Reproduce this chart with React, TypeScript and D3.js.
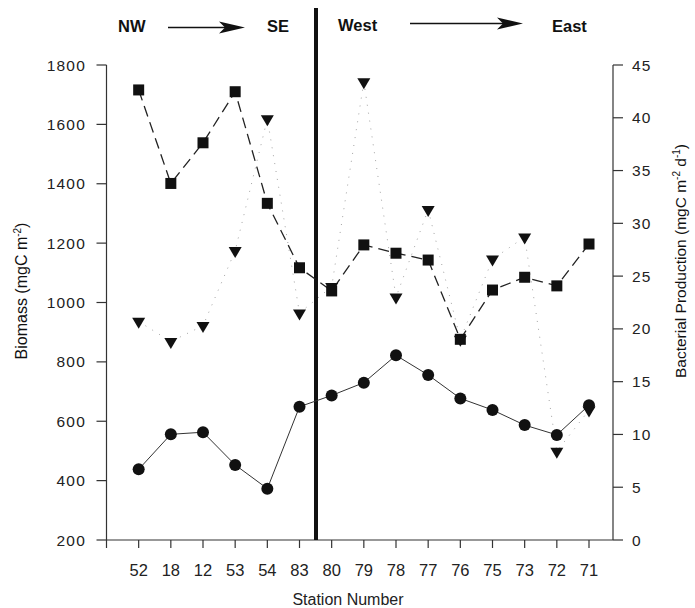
import React from "react";
import * as d3 from "d3";

const stations = ["52", "18", "12", "53", "54", "83", "80", "79", "78", "77", "76", "75", "73", "72", "71"];
const biomassCircles = [438, 556, 563, 453, 373, 649, 687, 730, 822, 756, 677, 638, 587, 554, 654];
const biomassSquares = [1716, 1401, 1538, 1710, 1334, 1117, 1039, 1194, 1166, 1143, 876, 1042, 1085, 1056, 1197];
const production = [20.7, 18.8, 20.3, 27.4, 39.9, 21.5, 24.0, 43.4, 23.0, 31.3, 19.0, 26.6, 28.7, 8.4, 12.3];
const leftTicks = [200, 400, 600, 800, 1000, 1200, 1400, 1600, 1800];
const rightTicks = [0, 5, 10, 15, 20, 25, 30, 35, 40, 45];

const FONT = "'Liberation Sans', Arial, Helvetica, sans-serif";

export default function App() {
  const x = d3.scaleLinear().domain([-1, 14]).range([106.5, 589]);
  const yL = d3.scaleLinear().domain([200, 1800]).range([540, 65]);
  const yR = d3.scaleLinear().domain([0, 45]).range([540, 65]);
  const axisLeftX = 106.5;
  const axisRightX = 613;
  const axisY = 540;

  const lineL = d3.line<number>().x((_, i) => x(i)).y((d) => yL(d));
  const lineR = d3.line<number>().x((_, i) => x(i)).y((d) => yR(d));

  const tri = (cx: number, cy: number) => {
    const w = 6.5, h = 11;
    return `M${cx - w},${cy - h / 3}L${cx + w},${cy - h / 3}L${cx},${cy + (2 * h) / 3}Z`;
  };

  const arrow = (x1: number, x2: number, y: number) => (
    <g>
      <line x1={x1} x2={x2 - 18} y1={y} y2={y} stroke="#111" strokeWidth={1.6} />
      <path d={`M${x2},${y}L${x2 - 26},${y - 6}L${x2 - 20},${y}L${x2 - 26},${y + 6}Z`} fill="#111" />
    </g>
  );

  return (
    <svg width={695} height={608} style={{ position: "absolute", left: 0, top: 0, background: "#fff" }} fontFamily={FONT}>
      {/* header */}
      <g fontWeight="bold" fontSize={16.5} fill="#111">
        <text x={118} y={32}>NW</text>
        <text x={267} y={32}>SE</text>
        <text x={338} y={31}>West</text>
        <text x={552} y={32}>East</text>
      </g>
      {arrow(168, 245, 27.5)}
      {arrow(410, 523, 23.5)}

      {/* axes */}
      <line x1={axisLeftX} x2={axisLeftX} y1={65} y2={axisY} stroke="#333" strokeWidth={1.2} />
      <line x1={axisRightX} x2={axisRightX} y1={65} y2={axisY} stroke="#333" strokeWidth={1.2} />
      <line x1={axisLeftX} x2={axisRightX} y1={axisY} y2={axisY} stroke="#333" strokeWidth={1.2} />
      {leftTicks.map((t) => (
        <g key={"l" + t}>
          <line x1={axisLeftX - 10} x2={axisLeftX} y1={yL(t)} y2={yL(t)} stroke="#333" strokeWidth={1.2} />
          <text x={86} y={yL(t)} dy="0.36em" textAnchor="end" fontSize={15.5} letterSpacing={1.2} fill="#222">{t}</text>
        </g>
      ))}
      {rightTicks.map((t) => (
        <g key={"r" + t}>
          <line x1={axisRightX} x2={axisRightX + 10} y1={yR(t)} y2={yR(t)} stroke="#333" strokeWidth={1.2} />
          <text x={632} y={yR(t)} dy="0.36em" textAnchor="start" fontSize={15.5} letterSpacing={1.2} fill="#222">{t}</text>
        </g>
      ))}
      {d3.range(-1, 15).map((i) => (
        <line key={"xt" + i} x1={x(i)} x2={x(i)} y1={axisY} y2={axisY + 8} stroke="#333" strokeWidth={1.2} />
      ))}
      {stations.map((s, i) => (
        <text key={"xl" + s} x={x(i)} y={570} dy="0.36em" textAnchor="middle" fontSize={16.5} fill="#222">{s}</text>
      ))}
      <text x={348} y={605} textAnchor="middle" fontSize={16} fill="#222">Station Number</text>
      <text transform="translate(27,291) rotate(-90)" textAnchor="middle" fontSize={16} fill="#111">
        Biomass (mgC m<tspan dy={-6} fontSize={10}>-2</tspan><tspan dy={6}>)</tspan>
      </text>
      <text transform="translate(686,261) rotate(-90)" textAnchor="middle" fontSize={15.5} fill="#111">
        Bacterial Production (mgC m<tspan dy={-6} fontSize={10}>-2</tspan><tspan dy={6}> d</tspan><tspan dy={-6} fontSize={10}>-1</tspan><tspan dy={6}>)</tspan>
      </text>

      {/* divider */}
      <line x1={316} x2={316} y1={8} y2={axisY} stroke="#111" strokeWidth={4} />

      {/* series lines */}
      <path d={lineR(production) || ""} fill="none" stroke="#999" strokeWidth={0.9} strokeDasharray="1,7" />
      <path d={lineL(biomassSquares) || ""} fill="none" stroke="#222" strokeWidth={1.3} strokeDasharray="11,6" />
      <path d={lineL(biomassCircles) || ""} fill="none" stroke="#333" strokeWidth={1} />

      {/* markers */}
      {production.map((v, i) => (
        <path key={"t" + i} d={tri(x(i), yR(v))} fill="#111" />
      ))}
      {biomassSquares.map((v, i) => (
        <rect key={"s" + i} x={x(i) - 5.5} y={yL(v) - 5.5} width={11} height={11} fill="#111" />
      ))}
      {biomassCircles.map((v, i) => (
        <circle key={"c" + i} cx={x(i)} cy={yL(v)} r={6} fill="#111" />
      ))}
    </svg>
  );
}
